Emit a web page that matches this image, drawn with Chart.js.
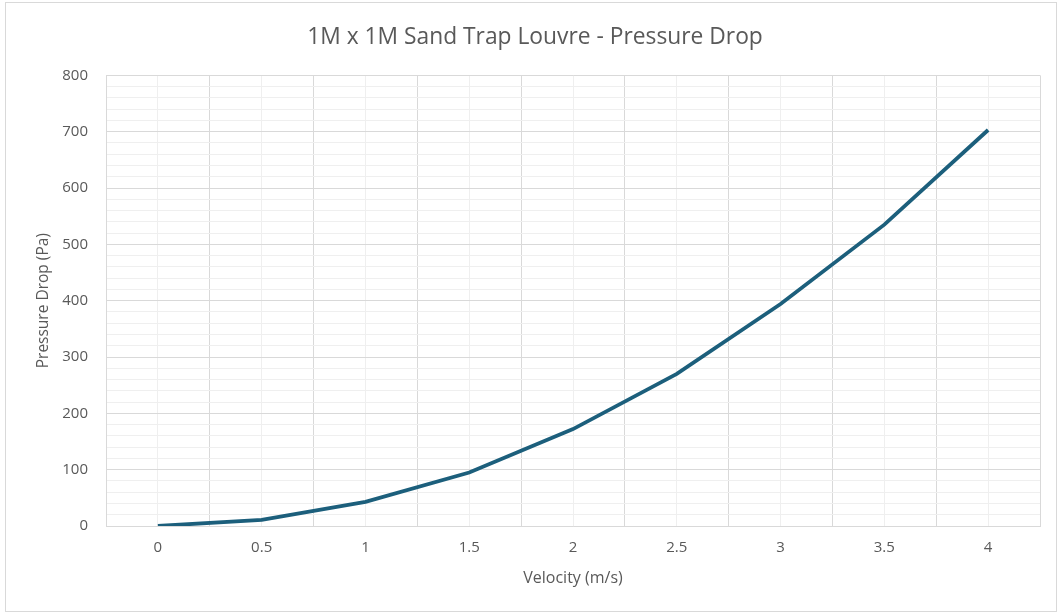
<!DOCTYPE html>
<html>
<head>
<meta charset="utf-8">
<script src="https://cdn.jsdelivr.net/npm/chart.js@4/dist/chart.umd.min.js"></script>
<style>
html,body{margin:0;padding:0;background:#fff;}
#frame{position:absolute;left:5px;top:2px;width:1050px;height:608px;border:1px solid #d9d9d9;}
#wrap{position:absolute;left:0;top:0;width:1059px;height:613px;}
</style>
</head>
<body>
<div id="frame"></div>
<div id="wrap"><canvas id="c" width="1059" height="613"></canvas></div>
<script>
const velocities = ['0','0.5','1','1.5','2','2.5','3','3.5','4'];
const pressureDrop = [0, 11, 43, 95, 172, 270, 394, 535, 703];
const chartTitle = '1M x 1M Sand Trap Louvre - Pressure Drop';
const xTitle = 'Velocity (m/s)';
const yTitle = 'Pressure Drop (Pa)';

const FONT = "'Open Sans', 'Noto Sans', sans-serif";
const TXT = '#595959';
const MAJOR = '#d9d9d9';
const MINOR = '#efefef';

new Chart(document.getElementById('c'), {
  type: 'line',
  data: {
    labels: velocities,
    datasets: [{
      data: pressureDrop,
      borderColor: '#1c5f7c',
      borderWidth: 3.8,
      pointRadius: 0,
      tension: 0,
      fill: false
    }]
  },
  options: {
    responsive: false,
    animation: false,
    devicePixelRatio: 1,
    layout: { padding: { left: 30, right: 19, top: 0, bottom: 21 } },
    plugins: {
      legend: { display: false },
      tooltip: { enabled: false },
      title: {
        display: true,
        text: chartTitle,
        color: TXT,
        font: { family: FONT, size: 22.8, weight: 'normal' },
        padding: { top: 24, bottom: 24 }
      }
    },
    scales: {
      x2: {
        type: 'category',
        labels: velocities,
        position: 'top',
        offset: true,
        grid: { offset: false, color: MINOR, lineWidth: 1, drawTicks: false },
        border: { display: false },
        ticks: { display: false },
        afterFit: s => { s.height = 0; }
      },
      x: {
        type: 'category',
        position: 'bottom',
        offset: true,
        grid: { offset: true, color: MAJOR, lineWidth: 1, drawTicks: false },
        border: { display: true, color: MAJOR, width: 1 },
        ticks: { color: TXT, font: { family: FONT, size: 15 }, padding: 13, maxRotation: 0 },
        title: { display: true, text: xTitle, color: TXT, font: { family: FONT, size: 16 }, padding: { top: 4, bottom: 4 } },
        afterFit: s => { s.height = 66; }
      },
      y: {
        min: 0,
        max: 800,
        grid: {
          color: ctx => (ctx.tick && ctx.tick.value % 100 === 0) ? MAJOR : MINOR,
          lineWidth: 1,
          drawTicks: false
        },
        border: { display: true, color: MAJOR, width: 1 },
        ticks: {
          stepSize: 20,
          autoSkip: false,
          color: TXT,
          font: { family: FONT, size: 15 },
          padding: 18,
          callback: v => (v % 100 === 0 ? String(v) : '')
        },
        title: { display: true, text: yTitle, color: TXT, font: { family: FONT, size: 15.5 }, padding: { top: 4, bottom: 4 } },
        afterFit: s => { s.width = 76; }
      }
    }
  }
});
</script>
</body>
</html>
